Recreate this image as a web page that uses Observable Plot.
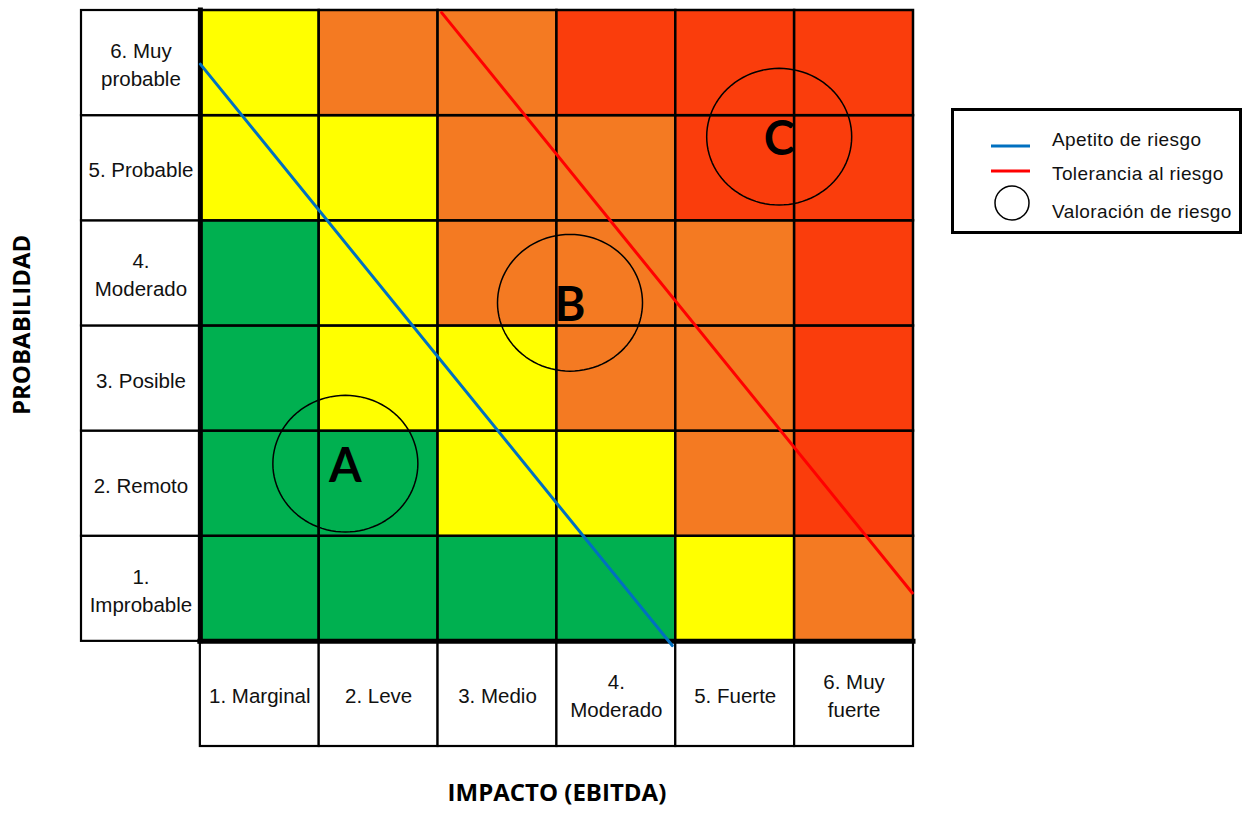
<!DOCTYPE html>
<html>
<head>
<meta charset="utf-8">
<script src="https://cdn.jsdelivr.net/npm/d3@7"></script>
<script src="https://cdn.jsdelivr.net/npm/@observablehq/plot@0.6"></script>
<style>
  body { margin: 0; background: #fff; }
  #wrap { position: relative; width: 1249px; height: 814px; }
  #legend { position: absolute; left: 950px; top: 106px; }
  #legend text { font-family: "Liberation Sans", Arial, sans-serif; font-size: 19px; fill: #111; letter-spacing: 0.4px; }
</style>
</head>
<body>
<div id="wrap"></div>
<script>
// ---- data ----
const impactLabels = ["1. Marginal", "2. Leve", "3. Medio", "4.\nModerado", "5. Fuerte", "6. Muy\nfuerte"];
const probLabels = ["1.\nImprobable", "2. Remoto", "3. Posible", "4.\nModerado", "5. Probable", "6. Muy\nprobable"];
// risk level per cell: rows = probability 1..6 (bottom to top), columns = impact 1..6
const riskLevels = [
  ["bajo",  "bajo",  "bajo",  "bajo",    "medio",   "alto"],
  ["bajo",  "bajo",  "medio", "medio",   "alto",    "extremo"],
  ["bajo",  "medio", "medio", "alto",    "alto",    "extremo"],
  ["bajo",  "medio", "alto",  "alto",    "alto",    "extremo"],
  ["medio", "medio", "alto",  "alto",    "extremo", "extremo"],
  ["medio", "alto",  "alto",  "extremo", "extremo", "extremo"]
];
const levelNames = ["bajo", "medio", "alto", "extremo"];
const levelColors = ["#00B050", "#FFFF00", "#F47A22", "#FA3D0C"];
// assessed risks (impact, probability on a 0..6 grid)
const assessLabels = ["A", "B", "C"];
const assessImpact = [1.22, 3.11, 4.87];
const assessProb = [1.69, 3.22, 4.80];
// appetite & tolerance lines
const appetiteImpact = [0, 3.97];
const appetiteProb = [5.49, -0.04];
const toleranceImpact = [2.03, 5.99];
const toleranceProb = [5.98, 0.46];

// ---- tables built from the arrays ----
const cells = [];
riskLevels.forEach((row, p) => row.forEach((lvl, i) => cells.push({impact: i, prob: p, level: lvl})));
const rowBoxes = probLabels.map((label, p) => ({label, prob: p}));
const colBoxes = impactLabels.map((label, i) => ({label, impact: i}));
const assessments = assessLabels.map((label, k) => ({label, impact: assessImpact[k], prob: assessProb[k]}));
const appetite = appetiteImpact.map((v, k) => ({impact: v, prob: appetiteProb[k]}));
const tolerance = toleranceImpact.map((v, k) => ({impact: v, prob: toleranceProb[k]}));
const RX = 0.61, RY = 0.65;
const ellipses = [];
assessments.forEach(a => {
  for (let t = 0; t <= 96; t++) {
    const ang = (t / 96) * 2 * Math.PI;
    ellipses.push({id: a.label, impact: a.impact + RX * Math.cos(ang), prob: a.prob + RY * Math.sin(ang)});
  }
});

const font = "Liberation Sans, Arial, sans-serif";

const chart = Plot.plot({
  width: 1249,
  height: 814,
  marginLeft: 81, marginRight: 336, marginTop: 10, marginBottom: 68,
  style: {fontFamily: font, background: "#fff", overflow: "visible"},
  x: {domain: [-1, 6], range: [81, 913], axis: null},
  y: {domain: [-1, 6], range: [746, 10], axis: null},
  color: {domain: levelNames, range: levelColors},
  marks: [
    Plot.rect(cells, {x1: "impact", x2: d => d.impact + 1, y1: "prob", y2: d => d.prob + 1,
      fill: "level", stroke: "#000", strokeWidth: 2.5}),
    Plot.rect(rowBoxes, {x1: -1, x2: 0, y1: "prob", y2: d => d.prob + 1, fill: "#fff", stroke: "#000", strokeWidth: 2.2}),
    Plot.rect(colBoxes, {x1: "impact", x2: d => d.impact + 1, y1: -1, y2: 0, fill: "#fff", stroke: "#000", strokeWidth: 2.2}),
    Plot.ruleX([0], {y1: 0, y2: 6, stroke: "#000", strokeWidth: 5, strokeLinecap: "square"}),
    Plot.ruleY([0], {x1: 0, x2: 6, stroke: "#000", strokeWidth: 5, strokeLinecap: "square"}),
    Plot.text(rowBoxes, {x: -0.5, y: d => d.prob + 0.5, text: "label", fontSize: 20.5, lineHeight: 1.37,
      fill: "#111"}),
    Plot.text(colBoxes, {x: d => d.impact + 0.5, y: -0.5, text: "label", fontSize: 20.5, lineHeight: 1.37,
      fill: "#111"}),
    Plot.line(appetite, {x: "impact", y: "prob", stroke: "#0070C0", strokeWidth: 3}),
    Plot.line(tolerance, {x: "impact", y: "prob", stroke: "#FF0000", strokeWidth: 3}),
    Plot.line(ellipses, {x: "impact", y: "prob", z: "id", stroke: "#000", strokeWidth: 1.5, curve: "linear"}),
    Plot.text(assessments, {x: "impact", y: "prob", text: "label", fontSize: 47, fontWeight: "bold",
      fontFamily: "Lato, sans-serif", fill: "#000", dy: 3}),
    Plot.text(["IMPACTO (EBITDA)"], {x: 3, frameAnchor: "bottom", dy: 54, fontSize: 24, fontWeight: "bold",
      fontFamily: "Open Sans, sans-serif", fill: "#000"}),
    Plot.text(["PROBABILIDAD"], {y: 3.01, frameAnchor: "left", textAnchor: "middle", dx: -59, rotate: -90,
      fontSize: 24, fontWeight: "bold", fontFamily: "Open Sans, sans-serif", fill: "#000"})
  ]
});
document.getElementById("wrap").appendChild(chart);

// legend
const legend = document.createElement("div");
legend.id = "legend";
legend.innerHTML = `
<svg width="294" height="130" xmlns="http://www.w3.org/2000/svg">
  <rect x="2.5" y="3.5" width="288" height="123" fill="#fff" stroke="#000" stroke-width="3"/>
  <line x1="41" x2="80" y1="40" y2="40" stroke="#0070C0" stroke-width="3"/>
  <line x1="41" x2="80" y1="65" y2="65" stroke="#FF0000" stroke-width="3"/>
  <circle cx="62" cy="97" r="17" fill="none" stroke="#000" stroke-width="1.5"/>
  <text x="102" y="40">Apetito de riesgo</text>
  <text x="102" y="74">Tolerancia al riesgo</text>
  <text x="102" y="112">Valoración de riesgo</text>
</svg>`;
document.getElementById("wrap").appendChild(legend);
</script>
</body>
</html>
